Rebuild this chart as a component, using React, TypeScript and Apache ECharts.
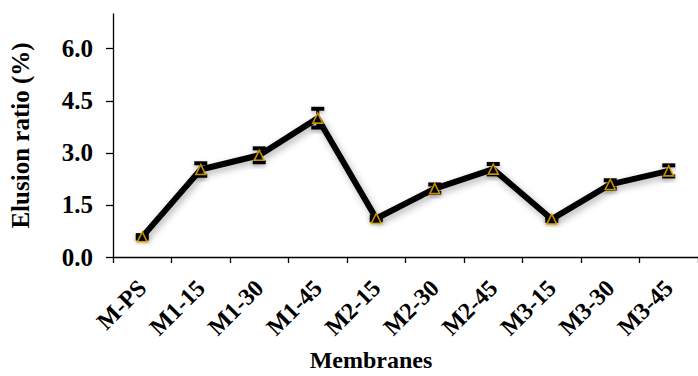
import React, { useEffect, useRef } from "react";
import * as echarts from "echarts";

const categories = ["M-PS", "M1-15", "M1-30", "M1-45", "M2-15", "M2-30", "M2-45", "M3-15", "M3-30", "M3-45"];
const values = [0.58, 2.52, 2.93, 4.0, 1.11, 1.97, 2.53, 1.09, 2.09, 2.48];
const errors = [0.05, 0.18, 0.2, 0.27, 0.05, 0.12, 0.15, 0.05, 0.12, 0.16];
const yTicks = [0, 1.5, 3, 4.5, 6];

const FONT = "'Liberation Serif', 'Times New Roman', serif";

export default function App() {
  const ref = useRef<HTMLDivElement>(null);
  useEffect(() => {
    if (!ref.current) return;
    const chart = echarts.init(ref.current, undefined, { renderer: "svg" });
    const errData = values.map((v, i) => [i, v - errors[i], v + errors[i]]);
    chart.setOption({
      animation: false,
      backgroundColor: "#ffffff",
      title: {
        text: "Membranes",
        left: 366,
        top: 343,
        textAlign: "center",
        textStyle: { fontFamily: FONT, fontWeight: "bold", fontSize: 24, color: "#000" },
      },
      grid: { left: 109, right: -8, top: 14, bottom: 119, containLabel: false },
      xAxis: {
        type: "category",
        data: categories,
        boundaryGap: true,
        axisLine: { lineStyle: { color: "#000", width: 1.3 } },
        axisTick: { show: true, alignWithLabel: false, length: 6, lineStyle: { color: "#000", width: 1.3 } },
        axisLabel: {
          rotate: 45,
          margin: 27,
          interval: 0,
          fontFamily: FONT,
          fontWeight: "bold",
          fontSize: 24,
          color: "#000",
        },
        splitLine: { show: false },
      },
      yAxis: {
        type: "value",
        min: 0,
        max: 7,
        name: "Elusion ratio (%)",
        nameLocation: "middle",
        nameGap: 80,
        nameTextStyle: { fontFamily: FONT, fontWeight: "bold", fontSize: 25, color: "#000" },
        axisLine: { show: true, lineStyle: { color: "#000", width: 1.3 } },
        axisTick: { show: true, length: 7, customValues: yTicks, lineStyle: { color: "#000", width: 1.3 } },
        axisLabel: {
          customValues: yTicks,
          margin: 20,
          formatter: (v: number) => v.toFixed(1),
          fontFamily: FONT,
          fontWeight: "bold",
          fontSize: 25,
          color: "#000",
        },
        splitLine: { show: false },
      },
      series: [
        {
          type: "line",
          data: values,
          symbol: "none",
          lineStyle: {
            color: "#000",
            width: 6,
            shadowColor: "rgba(0,0,0,0.3)",
            shadowBlur: 7,
            shadowOffsetX: 2,
            shadowOffsetY: 3,
          },
          z: 2,
        },
        {
          type: "custom",
          data: errData,
          z: 3,
          renderItem: (params: any, api: any) => {
            const x = api.value(0);
            const lo = api.coord([x, api.value(1)]);
            const hi = api.coord([x, api.value(2)]);
            const w = 13;
            const h = 4;
            return {
              type: "group",
              children: [
                { type: "line", shape: { x1: lo[0], y1: lo[1], x2: hi[0], y2: hi[1] }, style: { stroke: "#000", lineWidth: 3 } },
                { type: "rect", shape: { x: hi[0] - w / 2, y: hi[1] - h / 2, width: w, height: h }, style: { fill: "#000", shadowColor: "rgba(0,0,0,0.3)", shadowBlur: 4, shadowOffsetY: 2 } },
                { type: "rect", shape: { x: lo[0] - w / 2, y: lo[1] - h / 2, width: w, height: h }, style: { fill: "#000", shadowColor: "rgba(0,0,0,0.3)", shadowBlur: 4, shadowOffsetY: 2 } },
              ],
            };
          },
        },
        {
          type: "scatter",
          data: values,
          symbol: "triangle",
          symbolSize: 10,
          itemStyle: { color: "#000", borderColor: "#F5B000", borderWidth: 1.6 },
          z: 4,
        },
      ],
    });
    return () => chart.dispose();
  }, []);
  return <div ref={ref} style={{ position: "fixed", left: 0, top: 0, width: 698, height: 376 }} />;
}
